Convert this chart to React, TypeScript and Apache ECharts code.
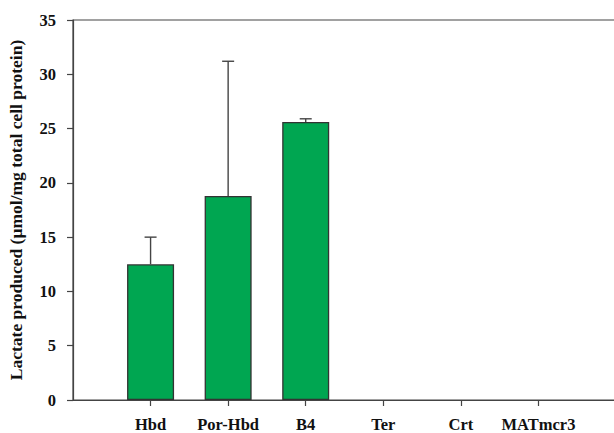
import React, { useEffect, useRef } from "react";
import * as echarts from "echarts";

// Cell lines along the x axis (slot 0 and slot 7 are empty padding positions)
const categories = ["", "Hbd", "Por-Hbd", "B4", "Ter", "Crt", "MATmcr3", ""];
// Mean lactate produced (µmol/mg total cell protein); "-" = no bar
const means: (number | string)[] = ["-", 12.5, 18.8, 25.6, "-", "-", "-", "-"];
// Upper end of the error bar for each measured bar
const upper: (number | null)[] = [null, 15.0, 31.2, 25.9, null, null, null, null];

const yTicks = { min: 0, max: 35, interval: 5 };

const FONT = "'Liberation Serif', 'Times New Roman', serif";
const AXIS_COLOR = "#444";
const TEXT_COLOR = "#111";

export default function App() {
  const ref = useRef<HTMLDivElement>(null);

  useEffect(() => {
    if (!ref.current) return;
    const chart = echarts.init(ref.current, undefined, { renderer: "svg" });

    const errData = upper
      .map((u, i) => (u == null ? null : [i, means[i] as number, u]))
      .filter((d) => d !== null) as number[][];

    chart.setOption({
      animation: false,
      backgroundColor: "#fff",
      grid: {
        left: 73,
        top: 20,
        right: -2,
        bottom: 33,
        show: true,
        borderColor: AXIS_COLOR,
        borderWidth: 1.2,
        backgroundColor: "transparent",
        outerBoundsMode: "none",
      },
      xAxis: {
        type: "category",
        data: categories,
        boundaryGap: false,
        axisLine: { lineStyle: { color: AXIS_COLOR, width: 1.2 } },
        axisTick: {
          length: 6,
          lineStyle: { color: AXIS_COLOR, width: 1.2 },
          interval: (index: number) => index >= 1 && index <= 6,
        },
        axisLabel: {
          interval: 0,
          margin: 17,
          lineHeight: 14,
          fontFamily: FONT,
          fontWeight: "bold",
          fontSize: 16.5,
          color: TEXT_COLOR,
        },
        splitLine: { show: false },
      },
      yAxis: {
        type: "value",
        min: yTicks.min,
        max: yTicks.max,
        interval: yTicks.interval,
        name: "Lactate produced (\u00b5mol/mg total cell protein)",
        nameLocation: "middle",
        nameRotate: 90,
        nameGap: 48,
        nameTextStyle: {
          fontFamily: FONT,
          fontWeight: "bold",
          fontSize: 17.5,
          color: TEXT_COLOR,
        },
        axisLine: { show: true, lineStyle: { color: AXIS_COLOR, width: 1.2 } },
        axisTick: { show: true, length: 6, lineStyle: { color: AXIS_COLOR, width: 1.2 } },
        axisLabel: {
          margin: 17,
          fontFamily: FONT,
          fontWeight: "bold",
          fontSize: 16.5,
          color: TEXT_COLOR,
        },
        splitLine: { show: false },
      },
      series: [
        {
          type: "bar",
          data: means,
          barWidth: 47,
          itemStyle: { color: "#00a651", borderColor: "#333", borderWidth: 1.3 },
          z: 2,
        },
        {
          type: "custom",
          data: errData,
          z: 3,
          renderItem: (params: any, api: any) => {
            const x = api.value(0);
            const top = api.coord([x, api.value(2)]);
            const base = api.coord([x, api.value(1)]);
            const half = 6;
            const style = { stroke: "#444", lineWidth: 1.4 };
            return {
              type: "group",
              children: [
                { type: "line", shape: { x1: top[0], y1: base[1], x2: top[0], y2: top[1] }, style },
                { type: "line", shape: { x1: top[0] - half, y1: top[1], x2: top[0] + half, y2: top[1] }, style },
              ],
            };
          },
        },
      ],
    });

    return () => chart.dispose();
  }, []);

  return (
    <div
      ref={ref}
      style={{ position: "fixed", left: 0, top: 0, width: 614, height: 433, background: "#fff" }}
    />
  );
}
